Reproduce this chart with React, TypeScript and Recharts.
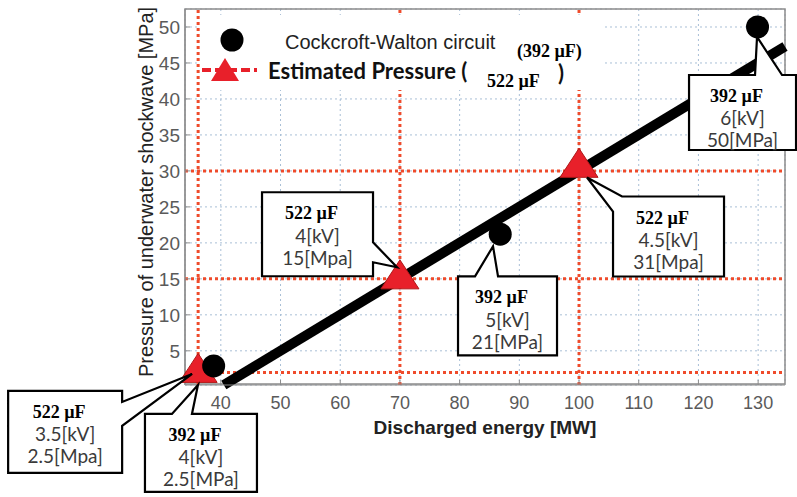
import {
  ComposedChart,
  Line,
  Scatter,
  XAxis,
  YAxis,
  CartesianGrid,
  ReferenceLine,
  ReferenceArea,
  Legend,
  Label,
} from "recharts";

// Cockcroft-Walton circuit (392 µF) measurements
const cwEnergy = [38.8, 86.8, 129.9];
const cwPressure = [2.9, 21.2, 50];
const cwCap = ["392 µF", "392 µF", "392 µF"];
const cwVolt = ["4[kV]", "5[kV]", "6[kV]"];
const cwPress = ["2.5[MPa]", "21[MPa]", "50[MPa]"];

// Estimated pressure (522 µF)
const estEnergy = [36.2, 70, 100];
const estPressure = [2, 15, 30.5];
const estCap = ["522 µF", "522 µF", "522 µF"];
const estVolt = ["3.5[kV]", "4[kV]", "4.5[kV]"];
const estPress = ["2.5[Mpa]", "15[Mpa]", "31[Mpa]"];

// fitted line end points
const fitEnergy = [40.5, 134.5];
const fitPressure = [0.25, 47.3];

const xTicks = [40, 50, 60, 70, 80, 90, 100, 110, 120, 130];
const yTicks = [5, 10, 15, 20, 25, 30, 35, 40, 45, 50];
const markX = [36.2, 70, 100];
const markY = [2, 15, 30];

const cwData = cwEnergy.map((x, i) => ({ x, y: cwPressure[i], i }));
const estData = estEnergy.map((x, i) => ({ x, y: estPressure[i], i }));
const fitData = fitEnergy.map((x, i) => ({ x, y: fitPressure[i] }));

// callout boxes, offsets from the marker they point at
// tA/tB: where the pointer leaves the box outline (clockwise perimeter distance from top-left)
type Box = { dx: number; dy: number; w: number; h: number; tA: number; tB: number; tx: number; ty: number };
const cwBoxes: Box[] = [
  { dx: -68.7, dy: 48, w: 112, h: 78, tA: 27, tB: 47, tx: -15.7, ty: 19 },
  { dx: -42.2, dy: 42.1, w: 99, h: 79, tA: 17, tB: 40, tx: -7.2, ty: 12.1 },
  { dx: -68.5, dy: 48, w: 107, h: 75, tA: 66, tB: 93, tx: -0.5, ty: 10 },
];
const estBoxes: Box[] = [
  { dx: -190, dy: 18.5, w: 114, h: 82, tA: 125, tB: 149, tx: -6, ty: 1.5 },
  { dx: -137.9, dy: -86.6, w: 111, h: 84, tA: 161, tB: 181, tx: -2.9, ty: -11.6 },
  { dx: 34, dy: 29.2, w: 111, h: 80, tA: 367, tB: 9, tx: 8, ty: 10.2 },
];

function perimPt(t: number, w: number, h: number): [number, number] {
  if (t <= w) return [t, 0];
  if (t <= w + h) return [w, t - w];
  if (t <= 2 * w + h) return [w - (t - w - h), h];
  return [0, h - (t - 2 * w - h)];
}

function outline(b: Box) {
  const { w, h, tA, tB } = b;
  const P = 2 * w + 2 * h;
  const len = (tA - tB + P) % P;
  const corners = [0, w, w + h, 2 * w + h]
    .map((c) => ({ c, d: (c - tB + P) % P }))
    .filter((o) => o.d > 0 && o.d < len)
    .sort((a, b2) => a.d - b2.d);
  const pts: [number, number][] = [perimPt(tB, w, h)];
  corners.forEach((o) => pts.push(perimPt(o.c, w, h)));
  pts.push(perimPt(tA, w, h));
  pts.push([b.tx - b.dx, b.ty - b.dy]);
  return "M" + pts.map((p) => p[0] + "," + p[1]).join(" L") + " Z";
}

function Callout({ cx, cy, b, cap, l2, l3 }: any) {
  const x0 = cx + b.dx;
  const y0 = cy + b.dy;
  return (
    <g transform={`translate(${x0},${y0})`}>
      <path d={outline(b)} fill="#fff" stroke="#000" strokeWidth={2.2} strokeLinejoin="miter" />
      <text x={b.w / 2 - 6} y={21} textAnchor="middle" dominantBaseline="central"
        fontFamily="Liberation Serif" fontWeight="bold" fontSize={18} fill="#000">{cap}</text>
      <text x={b.w / 2} y={43} textAnchor="middle" dominantBaseline="central"
        fontFamily="Lato" fontSize={19} fill="#3a3a3a">{l2}</text>
      <text x={b.w / 2} y={65} textAnchor="middle" dominantBaseline="central"
        fontFamily="Lato" fontSize={19} fill="#3a3a3a">{l3}</text>
    </g>
  );
}

const RED = "#e8202a";
const refStyle = { stroke: "#ef4b2b", strokeWidth: 3, strokeDasharray: "3 3" };

function LegendBox() {
  return (
    <svg width={405} height={75} style={{ display: "block", background: "#fff" }}>
      <circle cx={32} cy={25} r={11.5} fill="#000" />
      <text x={85} y={34} fontSize={20} fill="#222" fontFamily="Liberation Sans">Cockcroft-Walton circuit</text>
      <text x={317} y={42} fontFamily="Liberation Serif" fontWeight="bold" fontSize={18} fill="#000">(392 µF)</text>
      <line x1={2} x2={57} y1={55} y2={55} stroke={RED} strokeWidth={4} strokeDasharray="9 4" />
      <polygon points="25,43 11,66 39,66" fill={RED} />
      <text x={68} y={64} fontFamily="Lato" fontWeight="bold" fontSize={22} fill="#111">Estimated Pressure (</text>
      <text x={287} y={72} fontFamily="Liberation Serif" fontWeight="bold" fontSize={18} fill="#000">522 µF</text>
      <text x={358} y={66} fontFamily="Lato" fontWeight="bold" fontSize={22} fill="#111">)</text>
    </svg>
  );
}

export default function App() {
  return (
    <div style={{ position: "absolute", left: 0, top: 0, fontFamily: "Liberation Sans", background: "#fff" }}>
      <ComposedChart width={797} height={497} margin={{ top: 9, right: 12, bottom: 72, left: 0 }}>
        <CartesianGrid stroke="#a9bfd6" strokeDasharray="2 3" />
        <XAxis
          type="number"
          dataKey="x"
          domain={[34, 134.5]}
          ticks={xTicks}
          height={40}
          stroke="#8c8c8c"
          tickSize={-5}
          tickMargin={16}
          tick={{ fill: "#5a5a5a", fontSize: 18 }}
        >
          <Label
            content={({ viewBox }: any) => (
              <text x={viewBox.x + viewBox.width / 2} y={viewBox.y + 49} textAnchor="middle"
                fontSize={19} fontWeight="bold" fill="#222">Discharged energy [MW]</text>
            )}
          />
        </XAxis>
        <YAxis
          type="number"
          dataKey="y"
          domain={[0.4, 52.5]}
          ticks={yTicks}
          width={185}
          stroke="#8c8c8c"
          tickSize={-5}
          tickMargin={10}
          tick={{ fill: "#5a5a5a", fontSize: 19 }}
        >
          <Label
            content={({ viewBox }: any) => {
              const x = viewBox.x + viewBox.width - 39;
              const y = viewBox.y + viewBox.height / 2 - 5;
              return (
                <text x={x} y={y} transform={`rotate(-90 ${x} ${y})`} textAnchor="middle"
                  dominantBaseline="central" fontSize={20} fill="#222">
                  Pressure of underwater shockwave [MPa]
                </text>
              );
            }}
          />
        </YAxis>
        {markX.map((v) => (
          <ReferenceLine key={"vx" + v} x={v} {...refStyle} />
        ))}
        {markY.map((v) => (
          <ReferenceLine key={"hy" + v} y={v} {...refStyle} />
        ))}
        <ReferenceArea x1={34} x2={134.5} y1={0.4} y2={52.5} fill="none" stroke="#8c8c8c" strokeWidth={1.5} />
        <Legend
          layout="horizontal"
          verticalAlign="middle"
          align="center"
          content={() => <LegendBox />}
          wrapperStyle={{ left: 200, top: 15, width: 405, height: 75 }}
        />
        <Line
          data={fitData}
          dataKey="y"
          stroke="#000"
          strokeWidth={10}
          dot={false}
          activeDot={false}
          legendType="none"
          isAnimationActive={false}
        />
        <Scatter
          data={estData}
          dataKey="y"
          legendType="none"
          isAnimationActive={false}
          shape={(p: any) => (
            <polygon
              points={`${p.cx},${p.cy - 19} ${p.cx - 19},${p.cy + 10} ${p.cx + 19},${p.cy + 10}`}
              fill={RED}
              stroke="#b01818"
              strokeWidth={1}
            />
          )}
        />
        <Scatter
          data={cwData}
          dataKey="y"
          legendType="none"
          isAnimationActive={false}
          shape={(p: any) => <circle cx={p.cx} cy={p.cy} r={11.5} fill="#000" />}
        />
        <Scatter
          data={estData}
          dataKey="y"
          legendType="none"
          isAnimationActive={false}
          shape={(p: any) => {
            const i = p.payload.i;
            return <Callout cx={p.cx} cy={p.cy} b={estBoxes[i]} cap={estCap[i]} l2={estVolt[i]} l3={estPress[i]} />;
          }}
        />
        <Scatter
          data={cwData}
          dataKey="y"
          legendType="none"
          isAnimationActive={false}
          shape={(p: any) => {
            const i = p.payload.i;
            return <Callout cx={p.cx} cy={p.cy} b={cwBoxes[i]} cap={cwCap[i]} l2={cwVolt[i]} l3={cwPress[i]} />;
          }}
        />
      </ComposedChart>
    </div>
  );
}
